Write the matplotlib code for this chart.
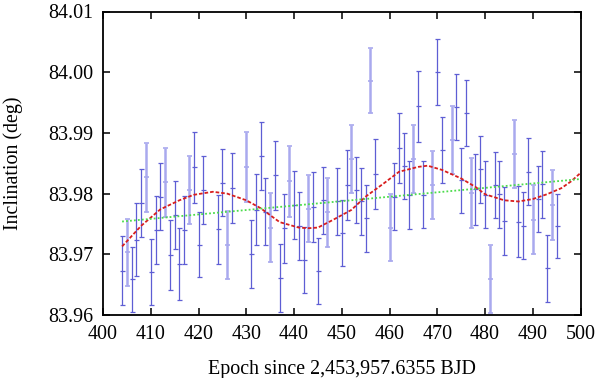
import matplotlib
matplotlib.use("Agg")
import matplotlib.pyplot as plt
import numpy as np

# transit epochs and fitted inclinations
epoch = [404, 405, 406, 407, 408, 409, 410, 411, 412, 413, 414, 415, 416, 417, 418,
         419, 420, 421, 424, 425, 426, 427, 430, 431, 432, 433, 434, 435, 436, 437,
         438, 439, 440, 441, 442, 443, 444, 445, 446, 447, 449, 450, 451, 452, 453,
         454, 455, 456, 457, 460, 461, 462, 463, 464, 465, 466, 467, 469, 470, 471,
         473, 474, 475, 476, 477, 478, 479, 480, 481, 482, 483, 484, 486, 487, 488,
         489, 490, 491, 492, 493, 494, 495]
incl = [83.9673, 83.9703, 83.9659, 83.9724, 83.9784, 83.9827, 83.9671, 83.9740, 83.9795,
        83.9819, 83.9699, 83.9765, 83.9684, 83.9740, 83.9806, 83.9843, 83.9716, 83.9806,
        83.9741, 83.9818, 83.9715, 83.9809, 83.9844, 83.9700, 83.9773, 83.9862, 83.9770,
        83.9744, 83.9830, 83.9661, 83.9743, 83.9820, 83.9781, 83.9747, 83.9691, 83.9775,
        83.9778, 83.9672, 83.9789, 83.9769, 83.9787, 83.9735, 83.9814, 83.9857, 83.9806,
        83.9787, 83.9759, 83.9986, 83.9832, 83.9744, 83.9795, 83.9875, 83.9845, 83.9798,
        83.9857, 83.9944, 83.9798, 83.9814, 84.0001, 83.9872, 83.9888, 83.9942, 83.9822,
        83.9932, 83.9801, 83.9807, 83.9840, 83.9798, 83.9659, 83.9814, 83.9799, 83.9755,
        83.9865, 83.9754, 83.9747, 83.9836, 83.9757, 83.9791, 83.9815, 83.9677, 83.9781,
        83.9747]
incl_err = [0.00565, 0.00557, 0.00535, 0.00598, 0.00560, 0.00568, 0.00540, 0.00557, 0.00549,
            0.00568, 0.00572, 0.00565, 0.00593, 0.00560, 0.00563, 0.00585, 0.00535, 0.00557,
            0.00563, 0.00555, 0.00557, 0.00577, 0.00577, 0.00557, 0.00585, 0.00555, 0.00552,
            0.00568, 0.00563, 0.00557, 0.00568, 0.00582, 0.00565, 0.00560, 0.00544, 0.00552,
            0.00577, 0.00544, 0.00555, 0.00563, 0.00544, 0.00549, 0.00572, 0.00557, 0.00544,
            0.00544, 0.00549, 0.00535, 0.00577, 0.00557, 0.00549, 0.00582, 0.00544, 0.00555,
            0.00555, 0.00585, 0.00549, 0.00555, 0.00544, 0.00549, 0.00555, 0.00544, 0.00535,
            0.00544, 0.00577, 0.00588, 0.00549, 0.00552, 0.00557, 0.00549, 0.00549, 0.00555,
            0.00557, 0.00577, 0.00549, 0.00552, 0.00568, 0.00547, 0.00555, 0.00549, 0.00582,
            0.00530]
# epochs drawn with the paler, heavier bars
light_epochs = [405, 409, 413, 418, 426, 430, 435, 439, 443, 447, 452, 456, 460, 465,
                469, 473, 477, 481, 486, 490, 494]

# sinusoidal model (red dashed)
model_epoch = [404, 408, 412, 416, 419, 423, 426, 430, 433, 437, 441, 443, 445, 448,
               452, 455, 459, 462, 466, 468, 471, 475, 478, 480, 484, 487, 490, 493,
               496, 498, 500]
model_incl = [83.9713, 83.9747, 83.9774, 83.9789, 83.9798, 83.9803, 83.9800, 83.9789,
              83.9776, 83.9753, 83.9744, 83.9743, 83.9744, 83.9756, 83.9773, 83.9795,
              83.9818, 83.9836, 83.9844, 83.9846, 83.9839, 83.9825, 83.9811, 83.9799,
              83.9789, 83.9787, 83.9791, 83.9799, 83.9809, 83.9820, 83.9834]

# linear trend (green dotted)
trend_epoch = [404, 500]
trend_incl = [83.9754, 83.9824]


def main() -> None:
    plt.rcParams["font.family"] = ["Liberation Serif", "DejaVu Serif"]
    plt.rcParams["font.size"] = 14.4

    fig = plt.figure(figsize=(6.0, 3.78), dpi=100)
    ax = fig.add_axes([103 / 600, 63 / 378, 477.5 / 600, 303.5 / 378])

    ep = np.array(epoch)
    inc = np.array(incl)
    err = np.array(incl_err)
    is_light = np.isin(ep, light_epochs)

    ax.errorbar(ep[~is_light], inc[~is_light], yerr=err[~is_light], fmt="_",
                color="#5e5ed4", ecolor="#5e5ed4", elinewidth=0.9, capsize=1.8,
                capthick=0.9, markersize=3.6, markeredgewidth=0.9, zorder=2)
    ax.errorbar(ep[is_light], inc[is_light], yerr=err[is_light], fmt="_",
                color="#a9a9ee", ecolor="#a9a9ee", elinewidth=1.8, capsize=1.8,
                capthick=1.2, markersize=3.6, markeredgewidth=1.2, zorder=2)

    ax.plot(model_epoch, model_incl, color="#d81e1e", lw=1.3, dashes=(2.0, 1.1), zorder=3)
    ax.plot(trend_epoch, trend_incl, color="#4cdc4c", lw=1.3, dashes=(1.0, 1.2), zorder=3)

    ax.set_xlim(400, 500)
    ax.set_ylim(83.96, 84.01)
    ax.set_xticks(np.arange(400, 501, 10))
    ax.set_yticks([83.96, 83.97, 83.98, 83.99, 84.00, 84.01])
    ax.set_yticklabels([f"{v:.2f}" for v in [83.96, 83.97, 83.98, 83.99, 84.00, 84.01]])
    ax.tick_params(direction="in", length=5, width=1.1, top=True, right=True, pad=7)
    for spine in ax.spines.values():
        spine.set_linewidth(1.3)

    ax.set_xlabel("Epoch since 2,453,957.6355 BJD", labelpad=12)
    ax.set_ylabel("Inclination (deg)", labelpad=18)

    fig.savefig("out.png", dpi=100)
    plt.close(fig)


if __name__ == "__main__":
    main()
